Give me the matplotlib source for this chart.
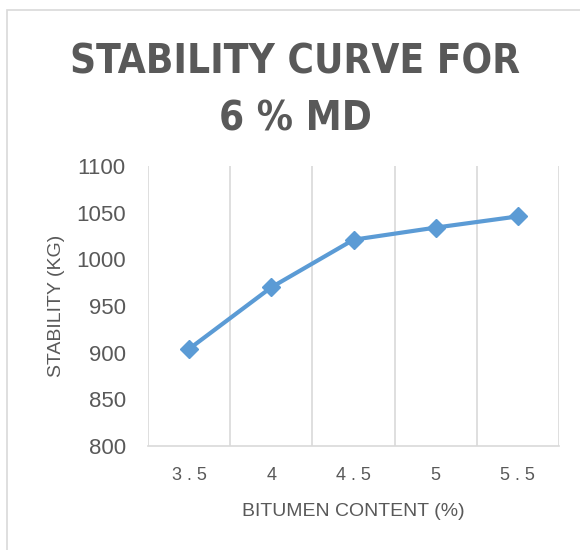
import matplotlib
matplotlib.use('Agg')
import matplotlib.pyplot as plt
from matplotlib import font_manager
from matplotlib.patches import Rectangle

# data
bitumen = [3.5, 4, 4.5, 5, 5.5]
stability = [904, 970, 1021, 1034, 1046]
y_ticks = [800, 850, 900, 950, 1000, 1050, 1100]

title = 'STABILITY CURVE FOR\n6 % MD'
x_label = 'BITUMEN CONTENT (%)'
y_label = 'STABILITY (KG)'

blue = '#5B9BD5'
grey_text = '#595959'
grid_grey = '#D9D9D9'

plt.rcParams['font.family'] = ['Liberation Sans', 'DejaVu Sans']

fig = plt.figure(figsize=(5.8, 5.5), dpi=100)

# outer chart border (only top and left edges are visible in the crop)
fig.patches.append(Rectangle((6.5/580, -0.1), 1.2, 1.1 - 9.5/550, transform=fig.transFigure,
                             fill=False, edgecolor='#D9D9D9', linewidth=1.2))

ax = fig.add_axes([148/580, 1 - 446/550, (559 - 148)/580, (446 - 166)/550])

xs = list(range(len(bitumen)))
ax.plot(xs, stability, color=blue, linewidth=3, marker='D', markersize=9,
        markerfacecolor=blue, markeredgecolor=blue, zorder=3)

ax.set_xlim(-0.5, len(bitumen) - 0.5)
ax.set_ylim(y_ticks[0], y_ticks[-1])
ax.set_yticks(y_ticks)
ax.set_xticks(xs)
ax.set_xticklabels([' '.join(str(b)) for b in bitumen])

# vertical gridlines sit between categories
for b in [i - 0.5 for i in range(len(bitumen) + 1)]:
    ax.axvline(b, color=grid_grey, linewidth=1.2, zorder=1)

for s in ['top', 'right', 'left']:
    ax.spines[s].set_visible(False)
ax.spines['bottom'].set_color(grid_grey)
ax.spines['bottom'].set_linewidth(1.2)

ax.tick_params(axis='y', length=0, pad=16, labelsize=16, labelcolor=grey_text)
ax.tick_params(axis='x', length=0, pad=15, labelsize=13, labelcolor=grey_text)

ax.set_xlabel(x_label, fontsize=14, color=grey_text, labelpad=14)
ax.set_ylabel(y_label, fontsize=14, color=grey_text, labelpad=8)

# condensed bold face for the title
tfont = font_manager.FontProperties(family='DejaVu Sans', stretch='condensed',
                                    weight='bold', size=29)
fig.text(295/580, 1 - 91/550, title, ha='center', va='center', fontproperties=tfont,
         color=grey_text, linespacing=1.52)

fig.savefig('out.png', dpi=100)
